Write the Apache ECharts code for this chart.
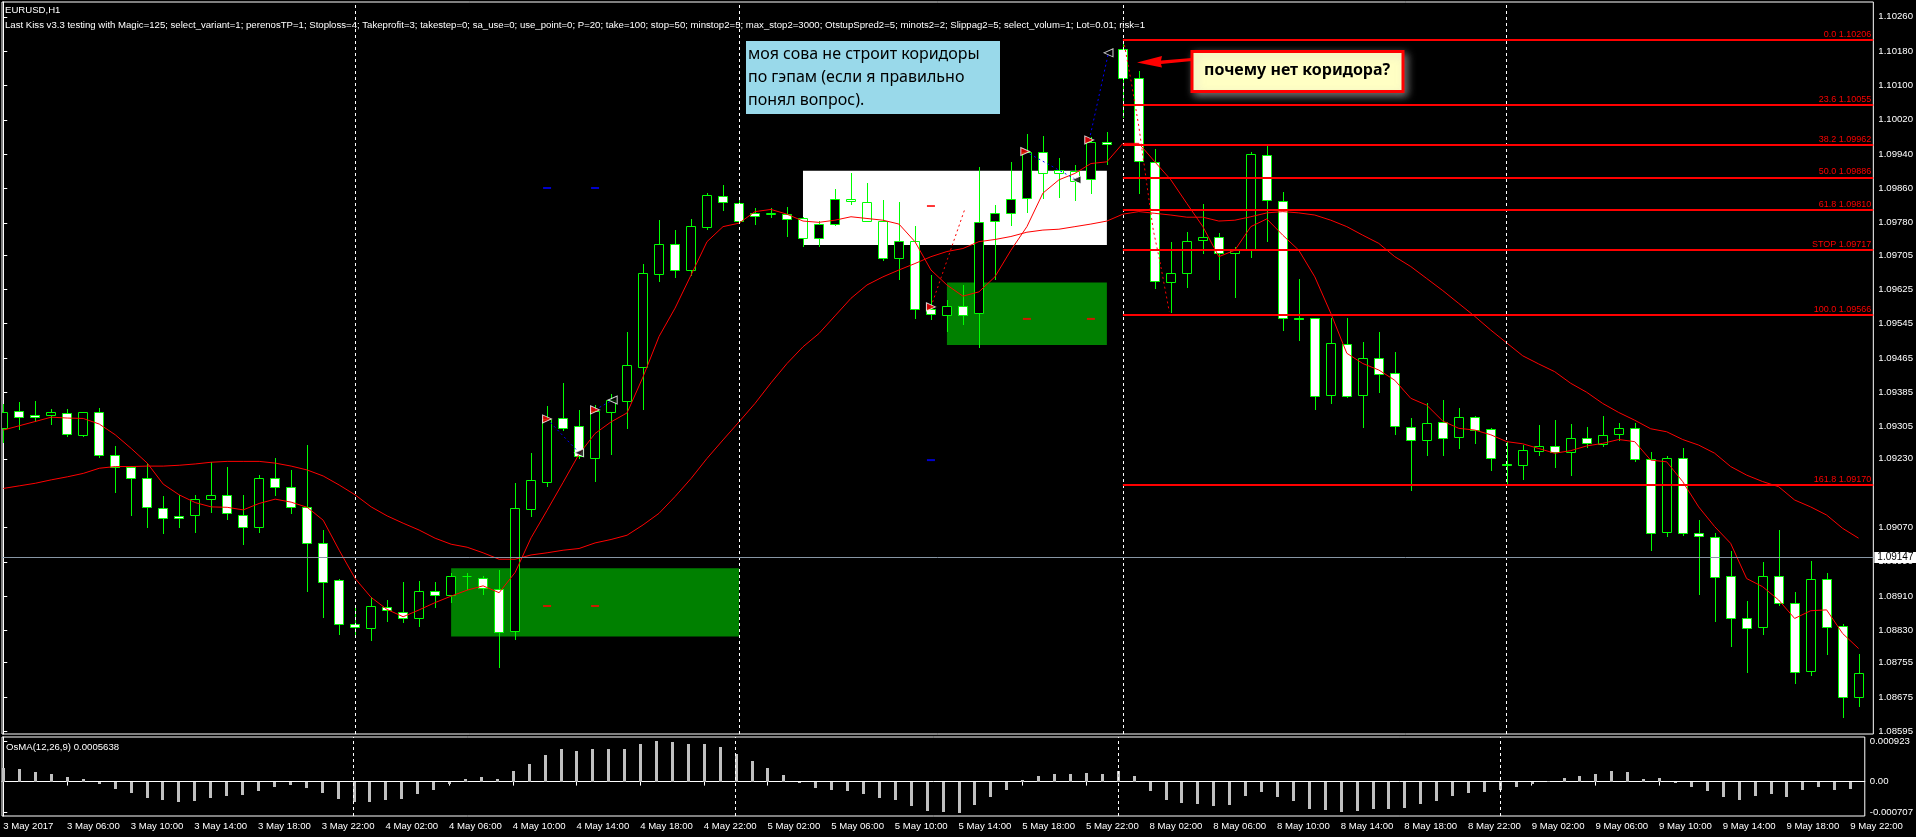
<!DOCTYPE html>
<html>
<head>
<meta charset="utf-8">
<title>EURUSD,H1</title>
<script src="https://cdn.jsdelivr.net/npm/echarts@6/dist/echarts.min.js"></script>
<style>
	html, body { margin: 0; padding: 0; background: #000; }
	#chart { width: 1916px; height: 837px; }
</style>
</head>
<body>
<div id="chart"></div>
<script>
// bars are H1, bar 0 = 3 May 02:00, bar 116 = 9 May 22:00
var barOpen = [
	1.09301,1.09342,1.09331,1.09331,1.09336,1.09286,1.09338,1.09240,1.09212,1.09185,
	1.09115,1.09097,1.09098,1.09136,1.09145,1.09098,1.09070,1.09185,1.09164,1.09117,
	1.09033,1.08947,1.08844,1.08835,1.08885,1.08874,1.08860,1.08923,1.08912,1.08957,
	1.08953,1.08927,1.08829,1.09114,1.09177,1.09324,1.09306,1.09232,1.09340,1.09364,
	1.09445,1.09660,1.09730,1.09669,1.09769,1.09842,1.09825,1.09802,1.09801,1.09800,
	1.09790,1.09744,1.09776,1.09835,1.09829,1.09784,1.09699,1.09738,1.09579,1.09566,
	1.09586,1.09570,1.09785,1.09802,1.09837,1.09946,1.09904,1.09901,1.09881,1.09969,
	1.10184,1.10118,1.09922,1.09641,1.09664,1.09741,1.09746,1.09710,1.09716,1.09937,
	1.09831,1.09557,1.09557,1.09378,1.09497,1.09378,1.09465,1.09429,1.09305,1.09275,
	1.09315,1.09280,1.09327,1.09299,1.09219,1.09215,1.09249,1.09261,1.09245,1.09278,
	1.09264,1.09287,1.09301,1.09229,1.09059,1.09233,1.09056,1.09047,1.08958,1.08858,
	1.08837,1.08956,1.08895,1.08736,1.08951,1.08841,1.08674
];
var barClose = [
	1.09340,1.09327,1.09327,1.09338,1.09287,1.09338,1.09240,1.09210,1.09185,1.09117,
	1.09091,1.09091,1.09136,1.09145,1.09103,1.09072,1.09185,1.09165,1.09118,1.09033,
	1.08944,1.08844,1.08837,1.08886,1.08878,1.08860,1.08923,1.08912,1.08958,1.08958,
	1.08928,1.08826,1.09115,1.09180,1.09323,1.09301,1.09236,1.09341,1.09367,1.09448,
	1.09662,1.09730,1.09671,1.09772,1.09845,1.09828,1.09785,1.09795,1.09802,1.09788,
	1.09744,1.09776,1.09835,1.09830,1.09785,1.09699,1.09737,1.09578,1.09567,1.09586,
	1.09566,1.09782,1.09802,1.09836,1.09946,1.09897,1.09897,1.09878,1.09969,1.09963,
	1.10117,1.09924,1.09644,1.09662,1.09737,1.09747,1.09710,1.09716,1.09940,1.09834,
	1.09557,1.09556,1.09376,1.09499,1.09376,1.09464,1.09427,1.09306,1.09275,1.09314,
	1.09278,1.09327,1.09297,1.09231,1.09215,1.09251,1.09261,1.09245,1.09278,1.09266,
	1.09285,1.09301,1.09229,1.09056,1.09233,1.09056,1.09050,1.08955,1.08858,1.08835,
	1.08958,1.08895,1.08734,1.08951,1.08839,1.08676,1.08730
];
var barLow = [
	1.09270,1.09300,1.09319,1.09310,1.09283,1.09283,1.09235,1.09153,1.09100,1.09072,
	1.09058,1.09070,1.09060,1.09105,1.09090,1.09032,1.09060,1.09145,1.09104,1.08923,
	1.08862,1.08822,1.08820,1.08808,1.08851,1.08849,1.08841,1.08885,1.08897,1.08927,
	1.08916,1.08744,1.08809,1.09097,1.09167,1.09297,1.09233,1.09179,1.09241,1.09302,
	1.09347,1.09645,1.09654,1.09658,1.09765,1.09810,1.09783,1.09776,1.09793,1.09750,
	1.09725,1.09725,1.09775,1.09823,1.09783,1.09693,1.09650,1.09559,1.09555,1.09528,
	1.09545,1.09491,1.09650,1.09774,1.09806,1.09838,1.09841,1.09833,1.09849,1.09918,
	1.10026,1.09849,1.09629,1.09573,1.09631,1.09710,1.09650,1.09608,1.09701,1.09738,
	1.09531,1.09508,1.09345,1.09359,1.09374,1.09305,1.09386,1.09287,1.09157,1.09240,
	1.09239,1.09256,1.09268,1.09205,1.09173,1.09184,1.09239,1.09212,1.09193,1.09257,
	1.09261,1.09275,1.09226,1.09017,1.09049,1.09052,1.08916,1.08853,1.08794,1.08734,
	1.08822,1.08889,1.08708,1.08726,1.08775,1.08629,1.08655
];
var barHigh = [
	1.09358,1.09362,1.09365,1.09346,1.09346,1.09340,1.09348,1.09261,1.09213,1.09220,
	1.09143,1.09146,1.09146,1.09222,1.09210,1.09146,1.09192,1.09232,1.09204,1.09262,
	1.09064,1.08951,1.08887,1.08909,1.08901,1.08944,1.08945,1.08943,1.08963,1.08965,
	1.08957,1.08971,1.09173,1.09243,1.09353,1.09406,1.09344,1.09355,1.09381,1.09525,
	1.09683,1.09786,1.09763,1.09789,1.09849,1.09868,1.09833,1.09814,1.09814,1.09816,
	1.09794,1.09783,1.09858,1.09895,1.09872,1.09833,1.09828,1.09772,1.09658,1.09600,
	1.09636,1.09909,1.09821,1.09921,1.09986,1.09982,1.09930,1.09915,1.09981,1.09991,
	1.10206,1.10134,1.09953,1.09736,1.09758,1.09824,1.09755,1.09724,1.09946,1.09959,
	1.09851,1.09649,1.09559,1.09559,1.09559,1.09503,1.09525,1.09478,1.09326,1.09359,
	1.09366,1.09348,1.09330,1.09301,1.09270,1.09262,1.09309,1.09320,1.09311,1.09305,
	1.09330,1.09314,1.09314,1.09247,1.09237,1.09256,1.09087,1.09058,1.09016,1.08899,
	1.08990,1.09064,1.08920,1.08992,1.08965,1.08844,1.08775
];
var maFast = [
	1.09297,1.09307,1.09317,1.09327,1.09325,1.09324,1.09311,1.09286,1.09254,1.09220,
	1.09171,1.09146,1.09128,1.09118,1.09117,1.09111,1.09126,1.09136,1.09129,1.09117,
	1.09087,1.09017,1.08951,1.08907,1.08879,1.08862,1.08878,1.08895,1.08910,1.08924,
	1.08934,1.08918,1.08965,1.09046,1.09110,1.09175,1.09241,1.09289,1.09316,1.09337,
	1.09421,1.09515,1.09581,1.09658,1.09736,1.09771,1.09779,1.09806,1.09811,1.09800,
	1.09784,1.09781,1.09786,1.09794,1.09790,1.09786,1.09777,1.09736,1.09670,1.09635,
	1.09609,1.09619,1.09654,1.09716,1.09771,1.09849,1.09880,1.09895,1.09918,1.09922,
	1.09965,1.09965,1.09922,1.09880,1.09825,1.09771,1.09701,1.09716,1.09771,1.09789,
	1.09751,1.09716,1.09654,1.09569,1.09476,1.09452,1.09437,1.09413,1.09371,1.09355,
	1.09318,1.09301,1.09297,1.09286,1.09270,1.09265,1.09254,1.09243,1.09249,1.09260,
	1.09266,1.09275,1.09270,1.09227,1.09223,1.09177,1.09118,1.09072,1.09033,1.08951,
	1.08932,1.08901,1.08858,1.08876,1.08878,1.08823,1.08788
];
var maSlow = [
	1.09161,1.09167,1.09173,1.09181,1.09188,1.09196,1.09208,1.09212,1.09212,1.09213,
	1.09213,1.09215,1.09218,1.09222,1.09224,1.09224,1.09224,1.09220,1.09213,1.09204,
	1.09190,1.09169,1.09146,1.09118,1.09097,1.09080,1.09064,1.09045,1.09031,1.09024,
	1.09011,1.08996,1.08996,1.09006,1.09011,1.09017,1.09021,1.09034,1.09042,1.09052,
	1.09076,1.09103,1.09142,1.09184,1.09231,1.09274,1.09316,1.09359,1.09407,1.09452,
	1.09491,1.09522,1.09563,1.09604,1.09635,1.09654,1.09670,1.09685,1.09701,1.09713,
	1.09720,1.09736,1.09741,1.09748,1.09758,1.09763,1.09765,1.09771,1.09777,1.09784,
	1.09800,1.09806,1.09802,1.09798,1.09793,1.09793,1.09784,1.09786,1.09794,1.09803,
	1.09806,1.09803,1.09798,1.09786,1.09771,1.09751,1.09732,1.09701,1.09678,1.09650,
	1.09622,1.09592,1.09562,1.09530,1.09500,1.09470,1.09451,1.09433,1.09406,1.09385,
	1.09359,1.09338,1.09320,1.09300,1.09293,1.09275,1.09262,1.09243,1.09212,1.09192,
	1.09177,1.09165,1.09134,1.09118,1.09099,1.09068,1.09045
];
var osma = [
	0.000312,0.000289,0.000228,0.000182,0.000114,0.000061,-0.000061,-0.000160,-0.000251,-0.000365,
	-0.000426,-0.000456,-0.000433,-0.000365,-0.000334,-0.000312,-0.000205,-0.000114,-0.000084,-0.000137,
	-0.000251,-0.000388,-0.000456,-0.000456,-0.000426,-0.000388,-0.000274,-0.000182,-0.000046,0.000061,
	0.000114,0.000061,0.000251,0.000410,0.000616,0.000730,0.000707,0.000752,0.000752,0.000752,
	0.000866,0.000923,0.000889,0.000866,0.000866,0.000798,0.000638,0.000479,0.000319,0.000160,
	-0.000015,-0.000137,-0.000182,-0.000205,-0.000274,-0.000365,-0.000410,-0.000547,-0.000661,-0.000684,
	-0.000707,-0.000524,-0.000342,-0.000182,0.000046,0.000137,0.000182,0.000182,0.000205,0.000182,
	0.000251,0.000137,-0.000205,-0.000410,-0.000479,-0.000502,-0.000547,-0.000524,-0.000319,-0.000228,
	-0.000342,-0.000433,-0.000616,-0.000638,-0.000699,-0.000661,-0.000616,-0.000616,-0.000593,-0.000502,
	-0.000433,-0.000319,-0.000251,-0.000228,-0.000182,-0.000114,-0.000046,0.000023,0.000091,0.000137,
	0.000182,0.000251,0.000228,0.000068,0.000091,-0.000015,-0.000114,-0.000205,-0.000342,-0.000410,
	-0.000319,-0.000274,-0.000342,-0.000182,-0.000114,-0.000182,-0.000160
];

var timeTickBars = [0,4,8,12,16,20,24,28,32,36,40,44,48,52,56,60,64,68,72,76,80,84,88,92,96,100,104,108,112,116];
var timeTickLabels = [
	'3 May 2017','3 May 06:00','3 May 10:00','3 May 14:00','3 May 18:00','3 May 22:00',
	'4 May 02:00','4 May 06:00','4 May 10:00','4 May 14:00','4 May 18:00','4 May 22:00',
	'5 May 02:00','5 May 06:00','5 May 10:00','5 May 14:00','5 May 18:00','5 May 22:00',
	'8 May 02:00','8 May 06:00','8 May 10:00','8 May 14:00','8 May 18:00','8 May 22:00',
	'9 May 02:00','9 May 06:00','9 May 10:00','9 May 14:00','9 May 18:00','9 May 22:00'
];
var priceTicks = [1.10260,1.10180,1.10100,1.10020,1.09940,1.09860,1.09780,1.09705,1.09625,1.09545,
	1.09465,1.09385,1.09305,1.09230,1.09070,1.08990,1.08910,1.08830,1.08755,1.08675,1.08595];
var oscTicks = [0.000923, 0, -0.000707];
var daySeparators = [22, 46, 70, 94];
var currentPrice = 1.09147;

// fibo from 8 May 00:00 bar
var fibStartBar = 70;
var fibLevels = [1.10206,1.10055,1.09962,1.09886,1.09810,1.09717,1.09566,1.09170];
var fibNames = ['0.0','23.6','38.2','50.0','61.8','STOP','100.0','161.8'];

// corridors: [from bar, to bar], [low, high]
var zoneBars = [[28, 46], [59, 69], [50, 69]];
var zonePrices = [[1.08816, 1.08975], [1.09495, 1.09641], [1.09728, 1.09901]];

// trade lines of the tester
var blueTradeLines = [
	[[34, 1.09323], [36, 1.09244]],
	[[37, 1.09344], [38.1, 1.09367]],
	[[63.9, 1.09946], [67.1, 1.09880]],
	[[67.9, 1.09973], [69.1, 1.10176]]
];
var redTradeLines = [
	[[58, 1.09584], [60.1, 1.09810]],
	[[70.1, 1.10194], [70.5, 1.10113], [71, 1.10004], [71.46, 1.09880], [71.9, 1.09763], [72.3, 1.09693], [72.9, 1.09573]]
];
var openMarks = [[34, 1.09323], [37, 1.09344], [58, 1.09584], [63.9, 1.09946], [67.9, 1.09973]];
var closeMarks = [[36, 1.09244], [38.1, 1.09367], [67.1, 1.09880], [69.1, 1.10176]];
var tpMarks = [[34, 1.09861], [37, 1.09861], [58, 1.09227]];
var slMarks = [[34, 1.08887], [37, 1.08887], [58, 1.09819], [64, 1.09556], [68, 1.09556]];

var headerText = 'Last Kiss v3.3 testing with Magic=125; select_variant=1; perenosTP=1; Stoploss=4; Takeprofit=3; takestep=0; sa_use=0; use_point=0; P=20; take=100; stop=50; minstop2=5; max_stop2=3000; OtstupSpred2=5; minots2=2; Slippag2=5; select_volum=1; Lot=0.01; risk=1';
var noteText = 'моя сова не строит коридоры\nпо гэпам (если я правильно\nпонял вопрос).';
var questionText = 'почему нет коридора?';

(function () {
	var chart = echarts.init(document.getElementById('chart'));
	var axisFont = 'Liberation Sans';
	var smallFont = '9.6px "Liberation Sans"';
	var xMin = -0.08, xMax = 116.92;

	var candles = barOpen.map(function (o, i) {
		return [i, o, barClose[i], barLow[i], barHigh[i]];
	});

	function renderCandle(params, api) {
		var i = api.value(0);
		var o = api.value(1), c = api.value(2);
		var pO = api.coord([i, o]);
		var pC = api.coord([i, c]);
		var pL = api.coord([i, api.value(3)]);
		var pH = api.coord([i, api.value(4)]);
		var cx = Math.round(pO[0]) + 0.5;
		var top = Math.round(Math.min(pO[1], pC[1])) + 0.5;
		var bot = Math.round(Math.max(pO[1], pC[1])) + 0.5;
		var kids = [{
			type: 'line',
			shape: { x1: cx, y1: Math.round(pH[1]), x2: cx, y2: Math.round(pL[1]) + 1 },
			style: { stroke: '#00ff00', lineWidth: 1 }
		}];
		if (bot - top < 1) {
			kids.push({ type: 'line', shape: { x1: cx - 5, y1: top, x2: cx + 4, y2: top }, style: { stroke: '#00ff00', lineWidth: 1 } });
		} else {
			kids.push({
				type: 'rect',
				shape: { x: cx - 5, y: top, width: 9, height: bot - top },
				style: { fill: c > o ? '#000000' : '#ffffff', stroke: '#00ff00', lineWidth: 1 }
			});
		}
		return { type: 'group', children: kids };
	}

	// histogram bar of the oscillator, from zero to value
	function renderOsc(params, api) {
		var p = api.coord([api.value(0), api.value(1)]);
		var z = api.coord([api.value(0), 0]);
		var x = Math.round(p[0]) - 1;
		var y0 = Math.round(Math.min(p[1], z[1]));
		var y1 = Math.round(Math.max(p[1], z[1]));
		return {
			type: 'rect',
			shape: { x: x, y: y0, width: 3, height: Math.max(y1 - y0, 1) },
			style: { fill: '#c0c0c0' }
		};
	}

	var zoneColors = ['#008000', '#008000', '#ffffff'];
	var areaData = zoneBars.map(function (b, k) {
		return [
			{ coord: [b[0], zonePrices[k][1]], itemStyle: { color: zoneColors[k], opacity: 1 } },
			{ coord: [b[1], zonePrices[k][0]] }
		];
	});

	var fibData = fibLevels.map(function (lv, k) {
		return [
			{ coord: [fibStartBar, lv], name: fibNames[k] + ' ' + lv.toFixed(5) },
			{ coord: [xMax, lv] }
		];
	});

	var sepLines = daySeparators.map(function (b) { return { xAxis: b }; });
	var sepStyle = { color: '#ffffff', width: 1, type: [3, 3] };

	var series = [
		{   // corridors, separators, current price line (under the bars)
			type: 'line', xAxisIndex: 0, yAxisIndex: 0, data: [], z: 1, silent: true,
			markArea: { silent: true, data: areaData },
			markLine: {
				silent: true, symbol: ['none', 'none'], animation: false,
				data: sepLines.map(function (d) {
					return Object.assign({ lineStyle: sepStyle, label: { show: false } }, d);
				}).concat([{
					yAxis: currentPrice,
					lineStyle: { color: '#8796a5', width: 1, type: 'solid' },
					label: {
						show: true, position: 'end', distance: 1, formatter: currentPrice.toFixed(5),
						backgroundColor: '#ffffff', color: '#000000', padding: [1, 3, 0, 3],
						fontFamily: axisFont, fontSize: 10
					}
				}])
			}
		},
		{
			name: 'EURUSD', type: 'custom', xAxisIndex: 0, yAxisIndex: 0, z: 2, clip: true,
			renderItem: renderCandle, encode: { x: 0, y: [1, 2, 3, 4] }, data: candles
		},
		{
			name: 'MA fast', type: 'line', xAxisIndex: 0, yAxisIndex: 0, z: 3, showSymbol: false, silent: true,
			data: maFast.map(function (v, i) { return [i, v]; }),
			lineStyle: { color: '#ff0000', width: 1 }
		},
		{
			name: 'MA slow', type: 'line', xAxisIndex: 0, yAxisIndex: 0, z: 3, showSymbol: false, silent: true,
			data: maSlow.map(function (v, i) { return [i, v]; }),
			lineStyle: { color: '#ff0000', width: 1 }
		},
		{   // fibo levels (over the bars)
			type: 'line', xAxisIndex: 0, yAxisIndex: 0, data: [], z: 5, silent: true,
			markLine: {
				silent: true, symbol: ['none', 'none'], animation: false,
				lineStyle: { color: '#ff0000', width: 2, type: 'solid' },
				label: {
					show: true, position: 'insideEndTop', formatter: '{b}', color: '#ff0000',
					fontFamily: axisFont, fontSize: 9, distance: [2, 1]
				},
				data: fibData
			}
		}
	];

	blueTradeLines.forEach(function (seg) {
		series.push({
			type: 'line', xAxisIndex: 0, yAxisIndex: 0, z: 4, showSymbol: false, silent: true, data: seg,
			lineStyle: { color: '#0000ff', width: 1, type: [2, 3] }
		});
	});
	redTradeLines.forEach(function (seg) {
		series.push({
			type: 'line', xAxisIndex: 0, yAxisIndex: 0, z: 4, showSymbol: false, silent: true, data: seg,
			lineStyle: { color: '#ff0000', width: 1, type: [2, 3] }
		});
	});
	series.push({
		type: 'scatter', xAxisIndex: 0, yAxisIndex: 0, z: 6, silent: true, data: openMarks,
		symbol: 'triangle', symbolSize: [8, 9], symbolRotate: -90,
		itemStyle: { color: '#ff0000', borderColor: '#ffffff', borderWidth: 1 }
	});
	series.push({
		type: 'scatter', xAxisIndex: 0, yAxisIndex: 0, z: 6, silent: true, data: closeMarks,
		symbol: 'triangle', symbolSize: [8, 9], symbolRotate: 90,
		itemStyle: { color: '#000000', borderColor: '#ffffff', borderWidth: 1 }
	});
	series.push({
		type: 'scatter', xAxisIndex: 0, yAxisIndex: 0, z: 6, silent: true, data: tpMarks,
		symbol: 'rect', symbolSize: [8, 2], itemStyle: { color: '#0000ff' }
	});
	series.push({
		type: 'scatter', xAxisIndex: 0, yAxisIndex: 0, z: 6, silent: true, data: slMarks,
		symbol: 'rect', symbolSize: [8, 2], itemStyle: { color: '#ff0000' }
	});
	series.push({
		name: 'OsMA', type: 'custom', xAxisIndex: 1, yAxisIndex: 1, z: 2, silent: true,
		renderItem: renderOsc, encode: { x: 0, y: 1 },
		data: osma.map(function (v, i) { return [i, v]; }),
		markLine: {
			silent: true, symbol: ['none', 'none'], animation: false,
			lineStyle: sepStyle, label: { show: false }, data: sepLines
		}
	});

	var option = {
		backgroundColor: '#000000',
		animation: false,
		grid: [
			{ left: 2, top: 2, width: 1872, height: 732, show: true, borderColor: '#ffffff', borderWidth: 1, backgroundColor: 'transparent' },
			{ left: 2, top: 737, width: 1872, height: 79, show: true, borderColor: '#ffffff', borderWidth: 1, backgroundColor: 'transparent' }
		],
		xAxis: [
			{ type: 'value', gridIndex: 0, min: xMin, max: xMax, show: false },
			{
				type: 'value', gridIndex: 1, min: xMin, max: xMax, position: 'bottom',
				axisLine: { show: true, lineStyle: { color: '#ffffff' } },
				axisTick: { show: true, customValues: timeTickBars, length: 4, lineStyle: { color: '#ffffff' } },
				axisLabel: {
					show: true, customValues: timeTickBars, color: '#ffffff', fontFamily: axisFont, fontSize: 9.6,
					align: 'left', margin: 5,
					formatter: function (v) { return timeTickLabels[timeTickBars.indexOf(Math.round(v))]; }
				},
				splitLine: { show: false }
			}
		],
		yAxis: [
			{
				type: 'value', gridIndex: 0, position: 'right', min: 1.085888, max: 1.102944,
				axisLine: { show: true, lineStyle: { color: '#ffffff' } },
				axisTick: { show: true, customValues: priceTicks, length: 4, lineStyle: { color: '#ffffff' } },
				axisLabel: {
					show: true, customValues: priceTicks, color: '#ffffff', fontFamily: axisFont, fontSize: 9.6, margin: 5,
					formatter: function (v) { return v.toFixed(5); }
				},
				splitLine: { show: false }
			},
			{
				type: 'value', gridIndex: 1, position: 'right', min: -0.000782, max: 0.001014,
				axisLine: { show: true, lineStyle: { color: '#ffffff' } },
				axisTick: { show: true, customValues: oscTicks, length: 4, lineStyle: { color: '#ffffff' } },
				axisLabel: {
					show: true, customValues: oscTicks, color: '#ffffff', fontFamily: axisFont, fontSize: 9.6, margin: 5,
					formatter: function (v) { return Math.abs(v) < 1e-9 ? '0.00' : v.toFixed(6); }
				},
				splitLine: { show: false }
			}
		],
		graphic: [
			{ type: 'text', left: 5, top: 5, silent: true, style: { text: 'EURUSD,H1', fill: '#ffffff', font: smallFont } },
			{ type: 'text', left: 5, top: 20, silent: true, style: { text: headerText, fill: '#ffffff', font: smallFont } },
			{ type: 'text', left: 6, top: 742, silent: true, style: { text: 'OsMA(12,26,9) 0.0005638', fill: '#ffffff', font: smallFont } },
			{
				type: 'group', left: 746, top: 41, silent: true,
				children: [
					{ type: 'rect', shape: { x: 0, y: 0, width: 254, height: 73 }, style: { fill: '#99d9ea' } },
					{ type: 'text', x: 2, y: 2, style: { text: noteText, fill: '#000000', font: '16px "Noto Sans"', lineHeight: 23 } }
				]
			},
			{
				type: 'group', left: 1137, top: 50, silent: true,
				children: [
					{
						type: 'rect', shape: { x: 55, y: 2, width: 211, height: 40 },
						style: { fill: '#ffffc4', stroke: '#ff0000', lineWidth: 3, shadowBlur: 8, shadowColor: 'rgba(200,200,200,0.55)', shadowOffsetX: 3, shadowOffsetY: 3 }
					},
					{
						type: 'text', x: 67, y: 21,
						style: { text: questionText, fill: '#000000', font: 'bold 16px "Noto Sans"', verticalAlign: 'middle' }
					},
					{
						type: 'polygon',
						shape: { points: [[0, 13], [25, 6.5], [24, 11], [55, 8.5], [55, 11.5], [24, 14.5], [25, 18]] },
						style: { fill: '#ff0000' }
					}
				]
			}
		],
		series: series
	};

	chart.setOption(option);
})();
</script>
</body>
</html>
